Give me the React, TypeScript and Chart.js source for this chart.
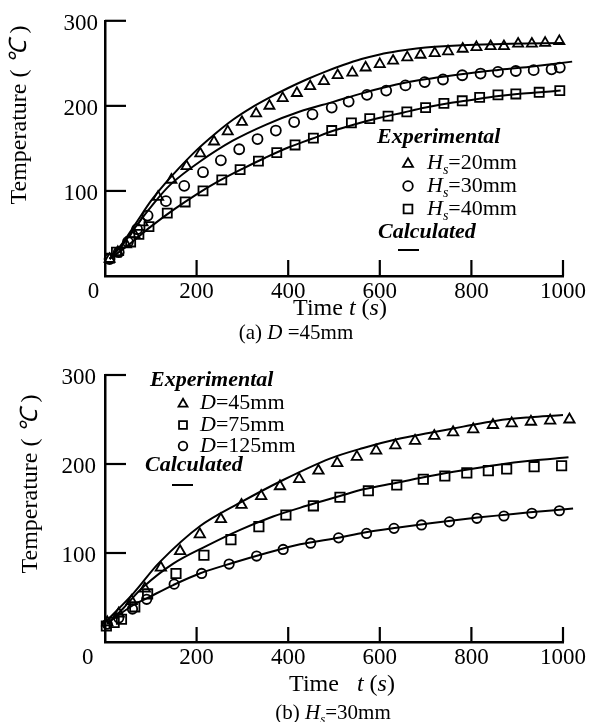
import React, { useEffect, useRef } from 'react';
import { Chart, registerables } from 'chart.js';

Chart.register(...registerables);

const FONT = '"Liberation Serif", "Times New Roman", Times, serif';

// ---------- shared axes ----------
const TIME_TICKS = [0, 200, 400, 600, 800, 1000];
const TEMP_TICKS = [100, 200, 300];

// ---------- (a) D = 45 mm ----------
const A_H20_TIME = [10, 28, 46, 64, 82, 116, 145, 178, 208, 238, 268, 299, 330, 359, 388, 419, 448, 478, 508, 540, 569, 600, 629, 660, 689, 720, 749, 781, 811, 842, 871, 902, 932, 961, 992];
const A_H20_TEMP = [20, 28, 37, 49, 63, 93, 113, 129, 144, 158, 170, 181, 191, 200, 209, 215, 223, 229, 236, 239, 245, 249, 253, 257, 260, 262, 264, 267, 269, 270, 270, 273, 273, 274, 276];

const A_H30_TIME = [10, 30, 50, 70, 93, 133, 173, 214, 253, 293, 333, 373, 413, 453, 495, 532, 572, 614, 656, 698, 738, 780, 820, 858, 897, 936, 975, 993];
const A_H30_TEMP = [20, 28, 40, 55, 71, 88, 106, 122, 136, 149, 161, 171, 181, 190, 198, 205, 213, 218, 224, 228, 231, 236, 238, 240, 241, 242, 243, 245];

const A_H40_TIME = [10, 25, 56, 74, 96, 136, 175, 214, 255, 295, 335, 375, 415, 455, 495, 538, 578, 618, 659, 700, 740, 780, 818, 858, 897, 948, 993];
const A_H40_TEMP = [21, 28, 40, 49, 58, 74, 87, 100, 113, 125, 135, 145, 154, 162, 171, 180, 185, 188, 193, 198, 203, 206, 210, 213, 214, 216, 218];

const A_CALC20_TIME = [10, 40, 70, 100, 130, 160, 200, 240, 280, 320, 360, 400, 440, 480, 520, 560, 600, 640, 680, 720, 780, 850, 920, 1000];
const A_CALC20_TEMP = [20, 40, 64, 88, 108, 126, 148, 167, 184, 198, 210, 221, 231, 240, 248, 255, 260.5, 264.5, 267.5, 269.5, 271.3, 272.5, 273.3, 274];

const A_CALC30_TIME = [10, 40, 70, 100, 144, 206, 279, 352, 424, 500, 563, 636, 709, 782, 855, 928, 1020];
const A_CALC30_TEMP = [20, 38, 60, 81, 108, 134, 159, 178, 193, 205, 215, 225, 232, 237.5, 242, 246, 252];

const A_CALC40_TIME = [10, 50, 100, 150, 200, 250, 300, 350, 400, 450, 500, 550, 600, 650, 700, 750, 800, 850, 900, 950, 995];
const A_CALC40_TEMP = [20, 36, 58, 78, 96, 112, 126, 139, 151, 161, 171, 179, 186, 192, 198, 203, 207, 211, 214, 216, 218];

// ---------- (b) Hs = 30 mm ----------
const B_D45_TIME = [5, 30, 58, 87, 122, 164, 207, 253, 298, 341, 382, 424, 466, 507, 550, 592, 634, 677, 719, 760, 804, 847, 888, 930, 972, 1014, 1037];
const B_D45_TEMP = [22, 32, 46, 60, 83.5, 102, 121, 138, 154, 164, 175, 183, 192.5, 201, 208, 215, 221, 226, 231.5, 235.6, 239, 243.8, 245.7, 247.5, 248.7, 250, 250];

const B_D75_TIME = [3, 20, 36, 65, 93, 155, 216, 275, 336, 395, 455, 513, 575, 637, 695, 742, 790, 837, 877, 937, 997];
const B_D75_TEMP = [18, 22, 25.5, 39.5, 54, 77, 97.5, 115, 129.6, 142.7, 153, 162.6, 170, 176.4, 182.8, 186.5, 190, 192.5, 194.4, 197, 198];

const B_D125_TIME = [5, 30, 60, 91, 151, 211, 271, 331, 389, 449, 510, 571, 631, 691, 752, 812, 871, 932, 992];
const B_D125_TEMP = [20, 27, 37, 48, 65, 77, 87.6, 96.6, 104, 111, 117, 122, 127.7, 131.5, 135, 139, 141.6, 144.6, 147.5];

const B_CALC45_TIME = [2, 62, 120, 207, 295, 389, 491, 564, 637, 710, 782, 855, 928, 1000, 1044];
const B_CALC45_TEMP = [23, 54.7, 90, 130, 156.5, 182, 206, 218, 227.7, 235, 242, 248.7, 252.5, 255, 257];

const B_CALC75_TIME = [5, 40, 84, 149, 222, 295, 367, 440, 513, 564, 637, 710, 782, 855, 928, 1012];
const B_CALC75_TEMP = [20, 38, 62, 88, 108, 126, 141, 153, 164, 171.6, 179, 186.5, 193, 199, 203.7, 207.5];

const B_CALC125_TIME = [4, 62, 91, 149, 207, 280, 353, 426, 513, 564, 637, 710, 782, 855, 928, 1022];
const B_CALC125_TEMP = [21, 41.6, 49, 64, 77, 89, 100, 109.8, 117.5, 122.8, 128.4, 133.4, 138, 142, 145.7, 150];

// ---------- helpers ----------
type Seg = { t: string; i?: boolean; b?: boolean; sub?: boolean };

const zip = (xs: number[], ys: number[]) => xs.map((x, k) => ({ x, y: ys[k] }));

function fontStr(size: number, i?: boolean, b?: boolean) {
  return `${i ? 'italic ' : ''}${b ? 'bold ' : ''}${size}px ${FONT}`;
}

function drawRich(ctx: CanvasRenderingContext2D, segs: Seg[], x: number, y: number, size: number, align: 'left' | 'center') {
  const subSize = Math.round(size * 0.62);
  let total = 0;
  const widths = segs.map((s) => {
    ctx.font = fontStr(s.sub ? subSize : size, s.i, s.b);
    const w = ctx.measureText(s.t).width;
    total += w;
    return w;
  });
  let cx = align === 'center' ? x - total / 2 : x;
  ctx.textBaseline = 'middle';
  ctx.textAlign = 'left';
  ctx.fillStyle = '#000';
  segs.forEach((s, k) => {
    ctx.font = fontStr(s.sub ? subSize : size, s.i, s.b);
    ctx.fillText(s.t, cx, s.sub ? y + size * 0.32 : y);
    cx += widths[k];
  });
}

function drawMarker(ctx: CanvasRenderingContext2D, style: string, x: number, y: number, r: number) {
  ctx.save();
  ctx.strokeStyle = '#000';
  ctx.lineWidth = 1.8;
  ctx.beginPath();
  if (style === 'triangle') {
    for (let k = 0; k < 3; k++) {
      const a = (k * 2 * Math.PI) / 3;
      const px = x + Math.sin(a) * r;
      const py = y - Math.cos(a) * r;
      if (k === 0) ctx.moveTo(px, py);
      else ctx.lineTo(px, py);
    }
    ctx.closePath();
  } else if (style === 'rect') {
    const s = r * Math.SQRT1_2;
    ctx.rect(x - s, y - s, 2 * s, 2 * s);
  } else {
    ctx.arc(x, y, r, 0, Math.PI * 2);
  }
  ctx.stroke();
  ctx.restore();
}

type LegendItem =
  | { kind: 'text'; segs: Seg[]; x: number; y: number }
  | { kind: 'marker'; style: string; x: number; y: number; r: number }
  | { kind: 'line'; x1: number; x2: number; y: number };

interface Decor {
  xTickLen: number;
  yTickLen: number;
  yTitle: { x: number; y: number };
  xTitle: { segs: Seg[]; x: number; y: number };
  caption: { segs: Seg[]; x: number; y: number };
  legend: LegendItem[];
}

function decorPlugin(d: Decor) {
  return {
    id: 'decor',
    afterDraw(chart: any) {
      const ctx: CanvasRenderingContext2D = chart.ctx;
      const xs = chart.scales.x;
      const ys = chart.scales.y;
      const x0 = xs.getPixelForValue(0);
      const y0 = ys.getPixelForValue(0);
      ctx.save();
      ctx.strokeStyle = '#000';
      ctx.lineWidth = 2.2;
      TIME_TICKS.forEach((v) => {
        if (v === 0) return;
        const px = xs.getPixelForValue(v);
        ctx.beginPath();
        ctx.moveTo(px, y0);
        ctx.lineTo(px, y0 - d.xTickLen);
        ctx.stroke();
      });
      TEMP_TICKS.forEach((v) => {
        const py = ys.getPixelForValue(v);
        ctx.beginPath();
        ctx.moveTo(x0, py);
        ctx.lineTo(x0 + d.yTickLen, py);
        ctx.stroke();
      });
      ctx.restore();

      ctx.save();
      ctx.translate(d.yTitle.x, d.yTitle.y);
      ctx.rotate(-Math.PI / 2);
      drawRich(ctx, [{ t: 'Temperature ( ' }, { t: '℃', i: true }, { t: ' )' }], 0, 0, 24, 'center');
      ctx.restore();

      ctx.save();
      drawRich(ctx, d.xTitle.segs, d.xTitle.x, d.xTitle.y, 24, 'center');
      drawRich(ctx, d.caption.segs, d.caption.x, d.caption.y, 21, 'center');
      d.legend.forEach((it) => {
        if (it.kind === 'text') drawRich(ctx, it.segs, it.x, it.y, 22, 'left');
        else if (it.kind === 'marker') drawMarker(ctx, it.style, it.x, it.y, it.r);
        else {
          ctx.strokeStyle = '#000';
          ctx.lineWidth = 2;
          ctx.beginPath();
          ctx.moveTo(it.x1, it.y);
          ctx.lineTo(it.x2, it.y);
          ctx.stroke();
        }
      });
      ctx.restore();
    },
  };
}

function pointSet(label: string, xs: number[], ys: number[], style: string, r: number) {
  return {
    type: 'scatter' as const,
    label,
    data: zip(xs, ys),
    showLine: false,
    pointStyle: style,
    pointRadius: r,
    pointBorderWidth: 1.8,
    pointBorderColor: '#000',
    pointBackgroundColor: 'rgba(0,0,0,0)',
    clip: false as any,
  };
}

function lineSet(label: string, xs: number[], ys: number[]) {
  return {
    type: 'line' as const,
    label,
    data: zip(xs, ys),
    showLine: true,
    borderColor: '#000',
    borderWidth: 2,
    pointRadius: 0,
    tension: 0.35,
    fill: false,
    clip: false as any,
  };
}

function buildOptions(pad: { top: number; right: number; bottom: number }, zeroLabel: string, yPad: number) {
  return {
    responsive: false,
    maintainAspectRatio: false,
    animation: false as const,
    layout: { padding: { left: 0, top: pad.top, right: pad.right, bottom: pad.bottom }, autoPadding: false },
    plugins: { legend: { display: false }, tooltip: { enabled: false }, title: { display: false } },
    scales: {
      x: {
        type: 'linear' as const,
        min: 0,
        max: 1000,
        afterBuildTicks: (s: any) => {
          s.ticks = TIME_TICKS.map((v) => ({ value: v }));
        },
        afterFit: (s: any) => {
          s.height = 30;
        },
        grid: { display: false, drawTicks: false },
        border: { display: true, color: '#000', width: 2.5 },
        ticks: {
          color: '#000',
          padding: 2,
          maxRotation: 0,
          autoSkip: false,
          font: { family: FONT, size: 23 },
          callback: (v: any) => (v === 0 ? zeroLabel : String(v)),
        },
      },
      y: {
        type: 'linear' as const,
        min: 0,
        max: 300,
        afterBuildTicks: (s: any) => {
          s.ticks = [0, ...TEMP_TICKS].map((v) => ({ value: v }));
        },
        afterFit: (s: any) => {
          s.width = 105;
        },
        grid: { display: false, drawTicks: false },
        border: { display: true, color: '#000', width: 2.5 },
        ticks: {
          color: '#000',
          padding: yPad,
          labelOffset: 3,
          autoSkip: false,
          font: { family: FONT, size: 23 },
          callback: (v: any) => (v === 0 ? '' : String(v)),
        },
      },
    },
  };
}

function Panel({ height, top, make }: { height: number; top: number; make: () => any }) {
  const ref = useRef<HTMLCanvasElement | null>(null);
  useEffect(() => {
    if (!ref.current) return;
    const chart = new Chart(ref.current, make());
    return () => chart.destroy();
  }, []);
  return (
    <canvas
      ref={ref}
      width={595}
      height={height}
      style={{ position: 'absolute', left: 0, top, width: 595, height, display: 'block' }}
    />
  );
}

function makeA() {
  const B = 0;
  const decor: Decor = {
    xTickLen: 16,
    yTickLen: 21,
    yTitle: { x: 20, y: 115 - B },
    xTitle: { segs: [{ t: 'Time ' }, { t: 't', i: true }, { t: ' (' }, { t: 's', i: true }, { t: ')' }], x: 340, y: 309 - B },
    caption: { segs: [{ t: '(a) ' }, { t: 'D', i: true }, { t: ' =45mm' }], x: 296, y: 333 - B },
    legend: [
      { kind: 'text', segs: [{ t: 'Experimental', i: true, b: true }], x: 377, y: 137 },
      { kind: 'marker', style: 'triangle', x: 408, y: 164, r: 5.8 },
      { kind: 'text', segs: [{ t: 'H', i: true }, { t: 's', i: true, sub: true }, { t: '=20mm' }], x: 427, y: 163 },
      { kind: 'marker', style: 'circle', x: 408, y: 186, r: 4.8 },
      { kind: 'text', segs: [{ t: 'H', i: true }, { t: 's', i: true, sub: true }, { t: '=30mm' }], x: 427, y: 186 },
      { kind: 'marker', style: 'rect', x: 408, y: 209, r: 6.2 },
      { kind: 'text', segs: [{ t: 'H', i: true }, { t: 's', i: true, sub: true }, { t: '=40mm' }], x: 427, y: 209 },
      { kind: 'text', segs: [{ t: 'Calculated', i: true, b: true }], x: 378, y: 232 },
      { kind: 'line', x1: 398, x2: 419, y: 250 },
    ],
  };
  return {
    type: 'scatter',
    data: {
      datasets: [
        lineSet('Calc Hs=20mm', A_CALC20_TIME, A_CALC20_TEMP),
        lineSet('Calc Hs=30mm', A_CALC30_TIME, A_CALC30_TEMP),
        lineSet('Calc Hs=40mm', A_CALC40_TIME, A_CALC40_TEMP),
        pointSet('Hs=20mm', A_H20_TIME, A_H20_TEMP, 'triangle', 5.8),
        pointSet('Hs=30mm', A_H30_TIME, A_H30_TEMP, 'circle', 5),
        pointSet('Hs=40mm', A_H40_TIME, A_H40_TEMP, 'rect', 6.4),
      ],
    },
    options: buildOptions({ top: 16, right: 32, bottom: 39 }, '0    ', 7),
    plugins: [decorPlugin(decor)],
  };
}

function makeB() {
  const B = 345;
  const decor: Decor = {
    xTickLen: 15,
    yTickLen: 21,
    yTitle: { x: 31, y: 484 - B },
    xTitle: { segs: [{ t: 'Time   ' }, { t: 't', i: true }, { t: ' (' }, { t: 's', i: true }, { t: ')' }], x: 342, y: 685 - B },
    caption: { segs: [{ t: '(b) ' }, { t: 'H', i: true }, { t: 's', i: true, sub: true }, { t: '=30mm' }], x: 333, y: 713 - B },
    legend: [
      { kind: 'text', segs: [{ t: 'Experimental', i: true, b: true }], x: 150, y: 380 - B },
      { kind: 'marker', style: 'triangle', x: 183, y: 404 - B, r: 5.2 },
      { kind: 'text', segs: [{ t: 'D', i: true }, { t: '=45mm' }], x: 200, y: 403 - B },
      { kind: 'marker', style: 'rect', x: 183, y: 425 - B, r: 5.6 },
      { kind: 'text', segs: [{ t: 'D', i: true }, { t: '=75mm' }], x: 200, y: 425 - B },
      { kind: 'marker', style: 'circle', x: 183, y: 446 - B, r: 4.3 },
      { kind: 'text', segs: [{ t: 'D', i: true }, { t: '=125mm' }], x: 200, y: 446 - B },
      { kind: 'text', segs: [{ t: 'Calculated', i: true, b: true }], x: 145, y: 465 - B },
      { kind: 'line', x1: 172, x2: 193, y: 485 - B },
    ],
  };
  return {
    type: 'scatter',
    data: {
      datasets: [
        lineSet('Calc D=45mm', B_CALC45_TIME, B_CALC45_TEMP),
        lineSet('Calc D=75mm', B_CALC75_TIME, B_CALC75_TEMP),
        lineSet('Calc D=125mm', B_CALC125_TIME, B_CALC125_TEMP),
        pointSet('D=45mm', B_D45_TIME, B_D45_TEMP, 'triangle', 6),
        pointSet('D=75mm', B_D75_TIME, B_D75_TEMP, 'rect', 6.6),
        pointSet('D=125mm', B_D125_TIME, B_D125_TEMP, 'circle', 4.7),
      ],
    },
    options: buildOptions({ top: 30, right: 32, bottom: 50 }, '0      ', 9),
    plugins: [decorPlugin(decor)],
  };
}

export default function App() {
  return (
    <div style={{ position: 'absolute', left: 0, top: 0, width: 595, height: 722, background: '#fff', overflow: 'hidden' }}>
      <Panel height={345} top={0} make={makeA} />
      <Panel height={377} top={345} make={makeB} />
    </div>
  );
}
